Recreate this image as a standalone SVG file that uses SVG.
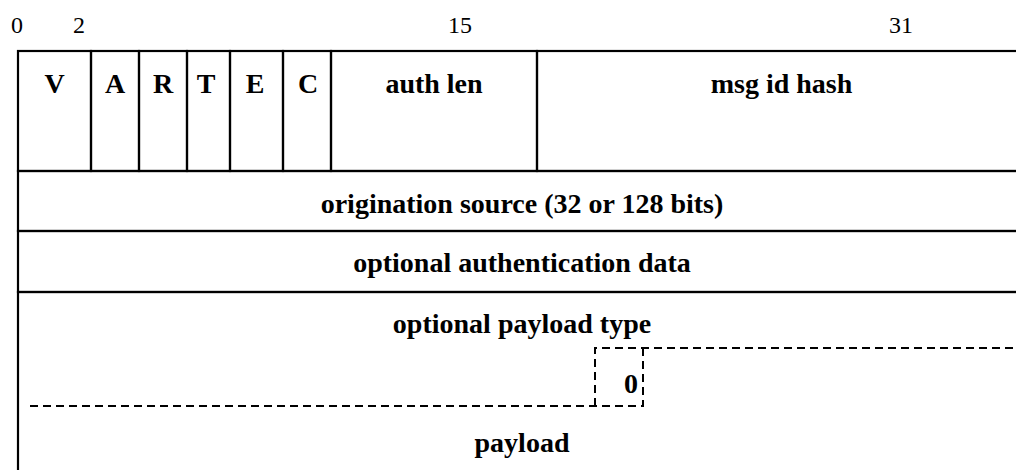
<svg xmlns="http://www.w3.org/2000/svg" width="1016" height="470" viewBox="0 0 1016 470">
  <style>
    .cell { fill: none; stroke: #000; stroke-width: 2.2; }
    .lbl { font-family: "Liberation Serif", "Times New Roman", serif; font-weight: bold; font-size: 28px; fill: #000; text-anchor: middle; }
    .bit { font-family: "Liberation Serif", "Times New Roman", serif; font-size: 24px; fill: #000; text-anchor: middle; }
    .dash { fill: none; stroke: #000; stroke-width: 2; stroke-dasharray: 8 5; }
  </style>
  <rect width="1016" height="470" fill="#fff"/>

  <!-- bit offsets -->
  <g id="bit-ruler">
    <text class="bit" x="17" y="33">0</text>
    <text class="bit" x="79" y="33">2</text>
    <text class="bit" x="460" y="33">15</text>
    <text class="bit" x="901" y="33">31</text>
  </g>

  <!-- first word: flag bits, auth len, msg id hash -->
  <g id="field-v"><rect class="cell" x="18" y="51" width="73" height="120"/><text class="lbl" x="54.5" y="93">V</text></g>
  <g id="field-a"><rect class="cell" x="91" y="51" width="48" height="120"/><text class="lbl" x="115" y="93">A</text></g>
  <g id="field-r"><rect class="cell" x="139" y="51" width="48" height="120"/><text class="lbl" x="163" y="93">R</text></g>
  <g id="field-t"><rect class="cell" x="187" y="51" width="43" height="120"/><text class="lbl" x="206" y="93">T</text></g>
  <g id="field-e"><rect class="cell" x="230" y="51" width="53" height="120"/><text class="lbl" x="255" y="93">E</text></g>
  <g id="field-c"><rect class="cell" x="283" y="51" width="48" height="120"/><text class="lbl" x="308" y="93">C</text></g>
  <g id="field-auth-len"><rect class="cell" x="331" y="51" width="206" height="120"/><text class="lbl" x="434" y="93">auth len</text></g>
  <g id="field-msg-id-hash"><rect class="cell" x="537" y="51" width="500" height="120"/><text class="lbl" x="781.5" y="93">msg id hash</text></g>

  <!-- variable-length words -->
  <g id="field-origination-source"><rect class="cell" x="18" y="171" width="1019" height="60"/><text class="lbl" x="522" y="213">origination source (32 or 128 bits)</text></g>
  <g id="field-auth-data"><rect class="cell" x="18" y="231" width="1019" height="61"/><text class="lbl" x="522" y="272">optional authentication data</text></g>
  <g id="field-payload-type"><rect class="cell" x="18" y="292" width="1019" height="200"/><text class="lbl" x="522" y="333">optional payload type</text></g>
  <g id="field-terminator"><text class="lbl" x="631" y="393">0</text></g>
  <g id="field-payload"><text class="lbl" x="522" y="452">payload</text></g>

  <!-- dashed boundary between payload type and payload -->
  <g id="connectors">
    <path class="dash" d="M30 406 H643 V348"/>
    <path class="dash" d="M595 406 V348 H1016"/>
  </g>
</svg>
